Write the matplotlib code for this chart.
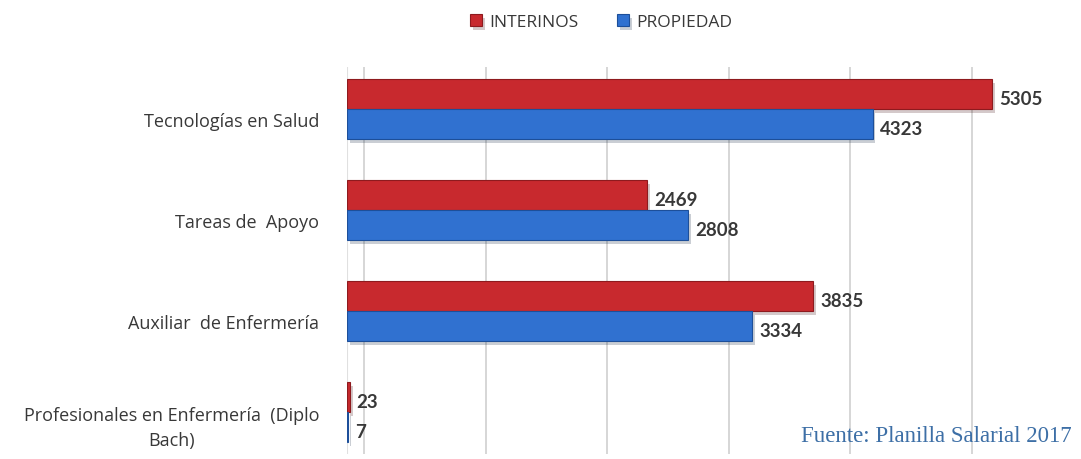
import numpy as np
import matplotlib
matplotlib.use("Agg")
import matplotlib.pyplot as plt
import matplotlib.patheffects as pe
from matplotlib.transforms import ScaledTranslation

# datos
categorias = ["Tecnologías en Salud", "Tareas de  Apoyo", "Auxiliar  de Enfermería",
              "Profesionales en Enfermería  (Diplo\nBach)"]
interinos = [5305, 2469, 3835, 23]
propiedad = [4323, 2808, 3334, 7]
series = ["INTERINOS", "PROPIEDAD"]

rojo = "#c8292e"
rojo_borde = "#8e1a1e"
azul = "#3071d0"
azul_borde = "#1d4f9a"
gris_texto = "#383838"

plt.rcParams["font.family"] = ["Lato", "DejaVu Sans"]

fig = plt.figure(figsize=(10.81, 4.6), dpi=100)
ax = fig.add_axes([347 / 1081, 1 - 455 / 460, 1 - 347 / 1081, (455 - 68) / 460])

y = np.arange(len(categorias))
h = 0.30
sombra = [pe.SimplePatchShadow(offset=(2, -3), alpha=0.22), pe.Normal()]

b1 = ax.barh(y - h / 2, interinos, height=h, color=rojo, edgecolor=rojo_borde,
             linewidth=0.8, label=series[0], zorder=3)
b2 = ax.barh(y + h / 2, propiedad, height=h, color=azul, edgecolor=azul_borde,
             linewidth=0.8, label=series[1], zorder=3)
for b in list(b1) + list(b2):
    b.set_path_effects(sombra)

# etiquetas de valores
for barras, vals in ((b1, interinos), (b2, propiedad)):
    for rect, v in zip(barras, vals):
        ax.annotate(str(v), (rect.get_width(), rect.get_y() + rect.get_height() / 2),
                    xytext=(5, -3), textcoords="offset points", ha="left", va="center",
                    fontsize=13.5, fontweight="bold", color=gris_texto, zorder=4)

# rejilla (desplazada como en el grafico 3D original)
desplaza = ScaledTranslation(17 / 100, 0, fig.dpi_scale_trans)
for k in range(0, 6):
    ax.plot([k * 1000, k * 1000], [0, 1], color="#d0d0d0", linewidth=1.2, zorder=1,
            transform=ax.get_xaxis_transform() + desplaza)
ax.axvline(0, color="#e0e0e0", linewidth=1.5, zorder=1)

ax.set_xlim(0, (1081 - 347) / 0.1216)
ax.set_ylim(len(categorias) - 1 + 0.416, -0.416)
ax.set_yticks(y)
ax.set_yticklabels(categorias, fontsize=13, color=gris_texto, ha="right",
                   multialignment="center", family=["Open Sans", "DejaVu Sans"],
                   linespacing=1.5)
ax.tick_params(axis="y", length=0, pad=20)
ax.set_xticks([])
for lbl in ax.get_yticklabels():
    lbl.set_transform(lbl.get_transform() + ScaledTranslation(0, -10 / 100, fig.dpi_scale_trans))
for s in ax.spines.values():
    s.set_visible(False)

leg = fig.legend(handles=[b1, b2], labels=series, loc="center", ncol=2,
                 bbox_to_anchor=(601 / 1081, 1 - 23 / 460), frameon=False,
                 prop={"family": ["Open Sans", "DejaVu Sans"], "size": 12.5},
                 handlelength=0.7, handleheight=0.7, columnspacing=2.2,
                 handletextpad=0.4)
for t in leg.get_texts():
    t.set_color(gris_texto)

fig.text(1072 / 1081, 1 - 437 / 460, "Fuente: Planilla Salarial 2017", ha="right",
         va="center", fontsize=16.5, color="#3d6fa6", family="Liberation Serif")

fig.savefig("out.png", dpi=100)
